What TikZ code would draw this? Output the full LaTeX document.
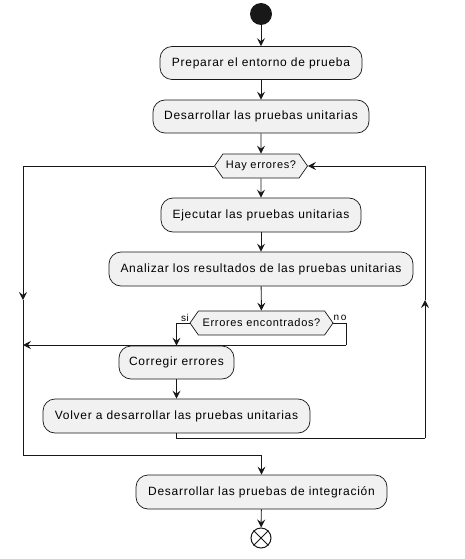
\documentclass[tikz,border=0pt]{standalone}
\usepackage{fontspec}
\setmainfont{Liberation Sans}
\newfontfamily\lsfont[LetterSpace=6]{Liberation Sans}
\usetikzlibrary{shapes.symbols,arrows.meta}
\definecolor{boxfill}{HTML}{F1F1F1}
\definecolor{ink}{HTML}{181818}
\tikzset{
  x=1pt,y=-1pt,
  act/.style={draw=ink,line width=0.7pt,fill=boxfill,rounded corners=12pt,
    minimum height=33pt,inner sep=0pt,font=\lsfont\fontsize{12}{14}\selectfont,text=black},
  dec/.style={draw=ink,line width=0.7pt,fill=boxfill,shape=signal,signal to=east and west,
    signal pointer angle=110,minimum height=24pt,inner sep=1pt,font=\lsfont\fontsize{11}{13}\selectfont},
  flow/.style={draw=ink,line width=0.9pt},
  arr/.style={flow,-{Stealth[length=8pt,width=8pt,inset=3pt]}},
  lab/.style={font=\lsfont\fontsize{10}{12}\selectfont,inner sep=0pt}
}
\begin{document}
\begin{tikzpicture}
\useasboundingbox (0,0) rectangle (465,559);
\fill[white] (0,0) rectangle (465,559);
\node[circle,fill=ink,minimum size=22pt,inner sep=0pt] (start) at (261,14) {};
\node[act,minimum width=202pt] (prep) at (261,63) {Preparar el entorno de prueba};
\node[act,minimum width=216pt] (des) at (261,116.5) {Desarrollar las pruebas unitarias};
\node[dec,minimum width=93pt] (hay) at (261,166) {Hay errores?};
\node[act,minimum width=200pt,minimum height=34pt] (ejec) at (261,215) {Ejecutar las pruebas unitarias};
\node[act,minimum width=304pt,minimum height=34pt] (anal) at (261,269) {Analizar los resultados de las pruebas unitarias};
\node[dec,minimum width=143pt] (err) at (261.5,323) {Errores encontrados?};
\node[act,minimum width=115pt] (corr) at (176.5,362.5) {Corregir errores};
\node[act,minimum width=267pt,minimum height=34pt] (volv) at (176.5,416) {Volver a desarrollar las pruebas unitarias};
\node[act,minimum width=251pt,minimum height=34pt] (fin) at (261.5,492) {Desarrollar las pruebas de integración};
\node[circle,draw=ink,line width=1pt,fill=white,minimum size=20pt,inner sep=0pt] (end) at (261,538) {};
\draw[ink,line width=1pt] (end.north east) -- (end.south west) (end.north west) -- (end.south east);

\coordinate (l0) at (23,166);
\coordinate (l1) at (23,300);
\coordinate (l2) at (23,345);
\coordinate (l3) at (23,455);
\coordinate (l4) at (261.5,455);
\coordinate (r0) at (425,438);
\coordinate (r1) at (425,300);
\coordinate (r2) at (425,166);
\coordinate (v1) at (176.5,438);
\coordinate (n1) at (346,345);
\coordinate (s1) at (176.5,323);

\draw[arr] (start) -- (prep);
\draw[arr] (prep) -- (des);
\draw[arr] (des) -- (hay);
\draw[arr] (hay) -- (ejec);
\draw[arr] (ejec) -- (anal);
\draw[arr] (anal) -- (err);
\draw[arr] (corr) -- (volv);
\draw[arr] (fin) -- (end);

\draw[arr] (hay.west) -- (l0) -- (l1);
\draw[flow] (l1) -- (l3) -- (l4);
\draw[arr] (l4) -- (fin.north);

\draw[arr] (err.west) -- (s1) -- (corr.north);
\draw[flow] (err.east) -| (n1);
\draw[arr] (n1) -- (l2);

\draw[flow] (volv.south) -- (v1) -- (r0);
\draw[arr] (r0) -- (r1);
\draw[arr] (r1) -- (r2) -- (hay.east);

\node[lab] (si) at (185,318) {si};
\node[lab] (no) at (340,318) {n\,o};
\end{tikzpicture}
\end{document}
